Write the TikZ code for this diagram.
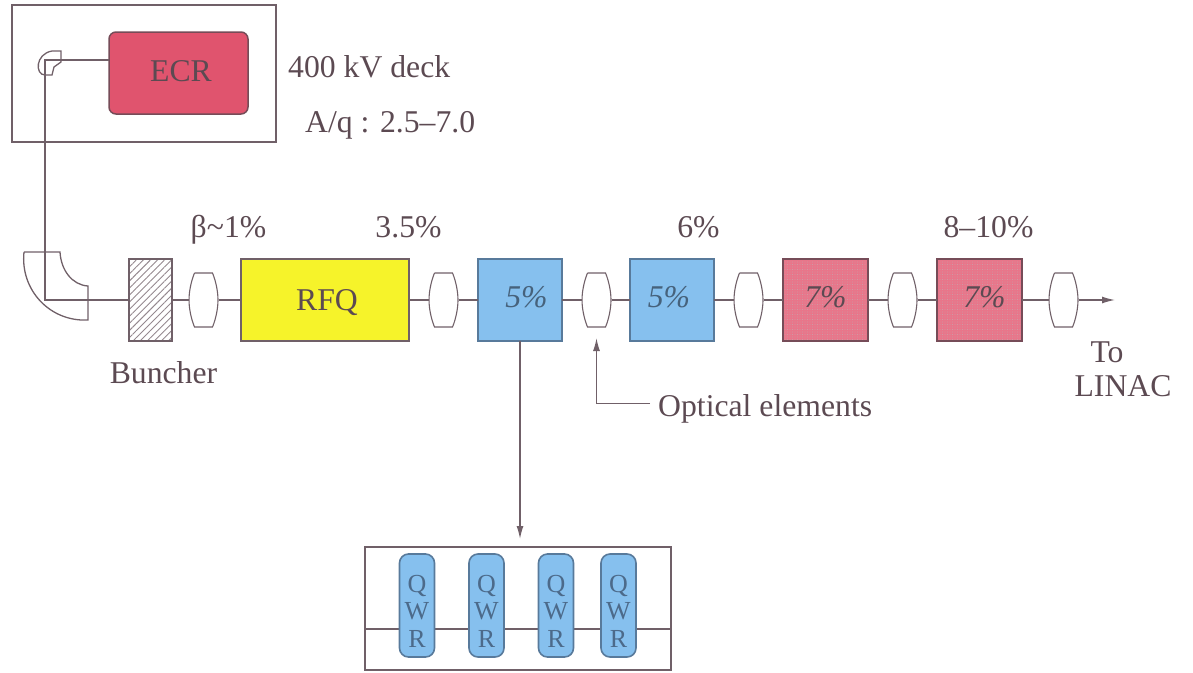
\documentclass[tikz,border=0pt]{standalone}
\usepackage{xcolor}
\usepackage{fontspec}
\setmainfont{Liberation Serif}
\usepackage{tikz}
\usetikzlibrary{shapes, arrows.meta, positioning, patterns.meta}
\definecolor{beamgray}{RGB}{112, 96, 104}
\definecolor{inkgray}{RGB}{92, 74, 82}
\definecolor{ecrred}{RGB}{224, 84, 110}
\definecolor{rfqyellow}{RGB}{246, 243, 42}
\definecolor{lowblue}{RGB}{134, 192, 238}
\definecolor{lowedge}{RGB}{88, 122, 155}
\definecolor{highpink}{RGB}{232, 118, 138}
\definecolor{highedge}{RGB}{118, 76, 88}
\definecolor{qwrink}{RGB}{76, 106, 138}
\tikzset{
    component/.style={
        rectangle,
        draw=beamgray,
        line width=1.5pt,
        outer sep=0pt,
        minimum height=82pt,
        align=center,
        font=\fontsize{31.7}{34}\selectfont,
        text=inkgray
    },
    lowcav/.style={component, fill=lowblue, draw=lowedge, minimum width=84pt, text depth=6pt, text=lowedge!80!black},
    highcav/.style={
        component,
        preaction={fill=highpink},
        pattern={Dots[distance=2.5pt,radius=.45pt]},
        pattern color=highedge!45,
        draw=highedge,
        minimum width=85pt,
        text depth=6pt
    },
    lens/.style={
        rectangle,
        outer sep=0pt,
        inner sep=0pt,
        minimum width=30pt,
        minimum height=56pt,
        path picture={
            \draw[beamgray, line width=1.1pt, shift={(path picture bounding box.center)}]
                (-9pt,27pt) -- (9pt,27pt) .. controls (12pt,20pt) and (14.5pt,9pt) .. (14.5pt,0pt)
                .. controls (14.5pt,-9pt) and (12pt,-20pt) .. (9pt,-27pt) -- (-9pt,-27pt)
                .. controls (-12pt,-20pt) and (-14.5pt,-9pt) .. (-14.5pt,0pt)
                .. controls (-14.5pt,9pt) and (-12pt,20pt) .. (-9pt,27pt);
        }
    },
    qwr/.style={
        rectangle,
        rounded corners=9pt,
        draw=lowedge,
        line width=1.6pt,
        fill=lowblue,
        minimum width=35pt,
        minimum height=103pt,
        inner sep=0pt,
        align=center,
        text=qwrink,
        font=\fontsize{26}{27.5}\selectfont
    },
    framebox/.style={rectangle, draw=beamgray, line width=1.4pt, outer sep=0pt},
    tag/.style={inner sep=0pt, text=inkgray, align=center, font=\fontsize{31.7}{34}\selectfont},
    line/.style={draw, line width=1.4pt, beamgray},
    arrowline/.style={line, -{Latex[length=13pt,width=7pt]}}
}

\begin{document}
\begin{tikzpicture}[x=1pt, y=-1pt]
    \useasboundingbox (0,0) rectangle (1193,672);

    % Deck
    \node[framebox, minimum width=264pt, minimum height=137pt] (deck) at (144,73.5) {};
    \node[component, fill=ecrred, draw=highedge, rounded corners=7pt, minimum width=139pt, text depth=4pt] (ecr) at (178.5,73) {\hspace{5pt}ECR};
    \coordinate (bendtop) at (45,60);
    \coordinate (bendlow) at (45,300);

    % Beam line
    \node[component, minimum width=43pt, pattern={Lines[angle=45,distance=5pt,line width=.9pt]}, pattern color=beamgray!75] (buncher) at (150.5,300) {};
    \node[lens, right=16.5pt of buncher] (lens1) {};
    \node[component, fill=rfqyellow, right=22.5pt of lens1, minimum width=168pt, text height=27pt] (rfq) {\hspace{4pt}RFQ};
    \node[lens, right=19.5pt of rfq] (lens2) {};
    \node[lowcav, right=19.5pt of lens2] (cav1) {\hspace{13pt}\textit{5\%}};
    \node[lens, right=19.5pt of cav1] (lens3) {};
    \node[lowcav, right=18.5pt of lens3] (cav2) {\hspace{-6pt}\textit{5\%}};
    \node[lens, right=19.5pt of cav2] (lens4) {};
    \node[highcav, right=19.5pt of lens4] (cav3) {\textit{7\%}};
    \node[lens, right=19.5pt of cav3] (lens5) {};
    \node[highcav, right=19.5pt of lens5] (cav4) {\hspace{10pt}\textit{7\%}};
    \node[lens, right=26.5pt of cav4] (lens6) {};
    \coordinate (exit) at (1115,300);

    % Bends
    \draw[beamgray, line width=1.3pt] (24,252) -- (60,252) .. controls (61,270) and (72,285) .. (88,286) -- (88,320) .. controls (50,322) and (20,290) .. (24,252);
    \draw[beamgray, line width=1.3pt] (52,51) -- (61,51) -- (61,62) -- (54,67) -- (52,75) -- (45,75) .. controls (35,75) and (35,54) .. (52,51);

    % Connections
    \path[line] (ecr.west |- bendtop) -- (bendtop) -- (bendlow) -- (buncher.west);
    \path[line] (buncher) -- (lens1);
    \path[line] (lens1) -- (rfq);
    \path[line] (rfq) -- (lens2);
    \path[line] (lens2) -- (cav1);
    \path[line] (cav1) -- (lens3);
    \path[line] (lens3) -- (cav2);
    \path[line] (cav2) -- (lens4);
    \path[line] (lens4) -- (cav3);
    \path[line] (cav3) -- (lens5);
    \path[line] (lens5) -- (cav4);
    \path[line] (cav4) -- (lens6);
    \path[arrowline] (lens6) -- (exit);

    % Resonator detail
    \node[framebox, minimum width=306pt, minimum height=123pt] (qbox) at (518,608.5) {};
    \coordinate (qin) at (365,629);
    \coordinate (qout) at (671,629);
    \path[line] (qin) -- (qout);
    \node[qwr] (qwr1) at (417,605.5) {\rule{0pt}{28pt}Q\\W\\R};
    \node[qwr] (qwr2) at (486.5,605.5) {\rule{0pt}{28pt}Q\\W\\R};
    \node[qwr] (qwr3) at (556,605.5) {\rule{0pt}{28pt}Q\\W\\R};
    \node[qwr] (qwr4) at (618.5,605.5) {\rule{0pt}{28pt}Q\\W\\R};
    \path[arrowline, shorten >=8pt] (cav1.south) -- (cav1.south |- qbox.north);

    % Labels
    \node[tag, anchor=base west] (decklabel) at (288,77) {400 kV deck};
    \node[tag, anchor=base west] (aqlabel) at (305,132) {A/q : 2.5--7.0};
    \node[tag, anchor=base] (betalabel) at (228.5,237) {β\textasciitilde 1\%};
    \node[tag, anchor=base] (rfqlabel) at (408.5,237) {3.5\%};
    \node[tag, anchor=base] (cav2label) at (698.5,237) {6\%};
    \node[tag, anchor=base] (cav4label) at (988.5,237) {8--10\%};
    \node[tag, anchor=base] (bunchlabel) at (163.5,383) {Buncher};
    \node[tag, anchor=base west] (optical) at (658,416) {Optical elements};
    \node[tag, anchor=north] (linac) at (1123,342) {\hspace{-32pt}To\\LINAC};
    \path[arrowline, shorten >=10pt] ([shift={(-8pt,5pt)}]optical.west) -| (lens3.south);

\end{tikzpicture}
\end{document}
